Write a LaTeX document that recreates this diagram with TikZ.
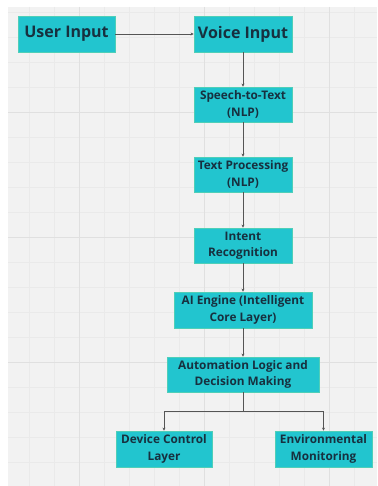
\documentclass[tikz,border=0pt]{standalone}
\usepackage{fontspec}
\setmainfont{Open Sans}
\usetikzlibrary{arrows.meta}
\definecolor{boxfill}{HTML}{22C5CF}
\definecolor{boxedge}{HTML}{4FCFB8}
\definecolor{txt}{HTML}{17303F}
\definecolor{bg}{HTML}{F2F2F2}
\definecolor{minorgrid}{HTML}{EAEAEA}
\definecolor{majorgrid}{HTML}{E0E0E0}
\definecolor{conn}{HTML}{555555}
\tikzset{
  bigbox/.style={draw=boxedge, line width=0.8pt, fill=boxfill, text=txt,
    font=\fontsize{16}{19}\selectfont\bfseries, inner sep=0pt, align=center},
  smallbox/.style={draw=boxedge, line width=0.8pt, fill=boxfill, text=txt,
    font=\fontsize{11.8}{16.5}\selectfont\bfseries, inner sep=0pt, align=center},
  arr/.style={draw=conn, line width=0.6pt, -{Stealth[length=3pt,width=3pt]}},
  lnk/.style={draw=conn, line width=0.6pt}
}
\begin{document}
\begin{tikzpicture}[x=1pt,y=-1pt]
\useasboundingbox (0,0) rectangle (377,486);
\fill[white] (0,0) rectangle (377,486);
\fill[bg] (8,7) rectangle (377,486);
\foreach \x in {29,54,104,129,154,179,229,254,279,304,354} \draw[minorgrid,line width=0.5pt] (\x,7) -- (\x,486);
\foreach \y in {12,37,62,87,137,162,187,212,262,287,312,337,387,412,437,462} \draw[minorgrid,line width=0.5pt] (8,\y) -- (377,\y);
\foreach \x in {79,204,329} \draw[majorgrid,line width=0.7pt] (\x,7) -- (\x,486);
\foreach \y in {112,237,362} \draw[majorgrid,line width=0.7pt] (8,\y) -- (377,\y);

\node[bigbox, minimum width=97pt, minimum height=36pt] (user) at (66.5,34) {User Input};
\node[bigbox, minimum width=98pt, minimum height=36pt] (voice) at (243,34) {Voice Input};
\node[smallbox, minimum width=98pt, minimum height=35pt] (stt) at (243,104.5) {Speech-to-Text\\(NLP)};
\node[smallbox, minimum width=98pt, minimum height=35pt] (tp) at (243,174.5) {Text Processing\\(NLP)};
\node[smallbox, minimum width=98pt, minimum height=35pt] (intent) at (243,245.5) {Intent\\Recognition};
\node[smallbox, minimum width=138pt, minimum height=36pt] (ai) at (243,310) {AI Engine (Intelligent\\Core Layer)};
\node[smallbox, minimum width=152pt, minimum height=35pt] (auto) at (243,374.5) {Automation Logic and\\Decision Making};
\node[smallbox, minimum width=96pt, minimum height=36pt] (dev) at (164,449) {Device Control\\Layer};
\node[smallbox, minimum width=97pt, minimum height=36pt] (env) at (323.5,449) {Environmental\\Monitoring};

\draw[arr] (user) -- (voice);
\draw[arr] (voice) -- (stt);
\draw[arr] (stt) -- (tp);
\draw[arr] (tp) -- (intent);
\draw[arr] (intent) -- (ai);
\draw[arr] (ai) -- (auto);
\coordinate (j) at (243,411);
\draw[lnk] (auto.south) -- (j);
\draw[arr] (j) -| (dev.north);
\draw[arr] (j) -| (env.north);
\end{tikzpicture}
\end{document}
